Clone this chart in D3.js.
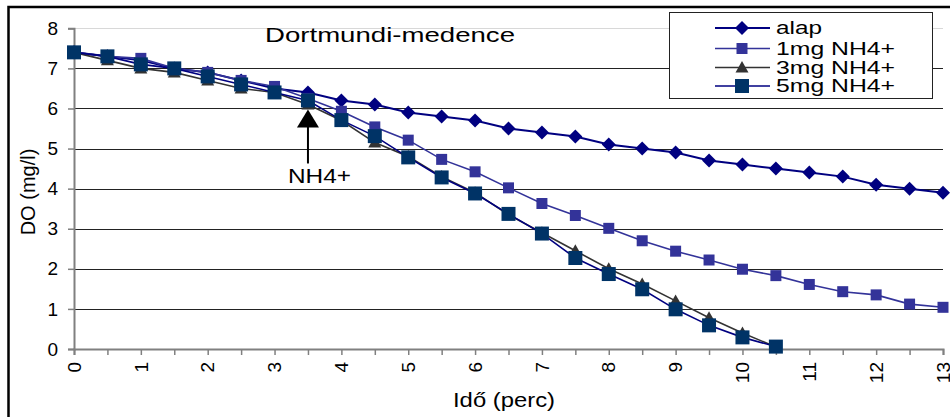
<!DOCTYPE html>
<html>
<head>
<meta charset="utf-8">
<script src="https://cdn.jsdelivr.net/npm/d3@7"></script>
<style>
  body { margin: 0; background: #fff; }
  text { font-family: "Liberation Sans", Arial, sans-serif; fill: #000; }
</style>
</head>
<body>
<svg id="chart"></svg>
<script>
const width = 950, height = 417;

// time points (perc)
const time = [0, 0.5, 1, 1.5, 2, 2.5, 3, 3.5, 4, 4.5, 5, 5.5, 6, 6.5, 7, 7.5, 8, 8.5,
              9, 9.5, 10, 10.5, 11, 11.5, 12, 12.5, 13];

// DO values (mg/l)
const alap = [7.4, 7.3, 7.2, 7.0, 6.9, 6.7, 6.5, 6.4, 6.2, 6.1, 5.9, 5.8, 5.7, 5.5, 5.4, 5.3, 5.1, 5.0,
              4.9, 4.7, 4.6, 4.5, 4.4, 4.3, 4.1, 4.0, 3.9];
const mg1 = [7.4, 7.3, 7.25, 7.0, 6.9, 6.7, 6.55, 6.25, 5.93, 5.54, 5.21, 4.73, 4.42, 4.02, 3.63, 3.33, 3.01, 2.7,
             2.44, 2.22, 1.99, 1.83, 1.61, 1.43, 1.35, 1.12, 1.04];
const mg3 = [7.4, 7.2, 7.0, 6.9, 6.7, 6.5, 6.4, 6.1, 5.7, 5.15, 4.8, 4.3, 3.9, 3.35, 2.9, 2.45, 2.0, 1.62,
             1.2, 0.78, 0.4, 0.05];
const mg5 = [7.4, 7.3, 7.1, 7.0, 6.8, 6.6, 6.4, 6.2, 5.71, 5.31, 4.78, 4.28, 3.88, 3.37, 2.88, 2.27, 1.87, 1.49,
             0.99, 0.59, 0.29, 0.06];

const yTicks = [0, 1, 2, 3, 4, 5, 6, 7, 8];
const xTicks = [0, 1, 2, 3, 4, 5, 6, 7, 8, 9, 10, 11, 12, 13];

const series = [
    { name: "alap", values: alap, line: "#000080", fill: "#000080", shape: "diamond", lw: 2 },
    { name: "1mg NH4+", values: mg1, line: "#333399", fill: "#333399", shape: "smallsquare", lw: 1.6 },
    { name: "3mg NH4+", values: mg3, line: "#333333", fill: "#333333", shape: "triangle", lw: 1.6 },
    { name: "5mg NH4+", values: mg5, line: "#000080", fill: "#003366", shape: "square", lw: 1.6 }
];

const svg = d3.select("#chart").attr("width", width).attr("height", height);

const x = d3.scaleLinear().domain([0, 13]).range([74, 943]);
const y = d3.scaleLinear().domain([0, 8]).range([349, 28.3]);

//outer frame
svg.append("rect")
    .attr("x", 8.5).attr("y", 7).attr("width", 1000).attr("height", 500)
    .attr("fill", "none").attr("stroke", "#000").attr("stroke-width", 2.5);

//gridlines
svg.append("g").selectAll("line")
    .data(yTicks.filter(d => d > 0))
    .join("line")
    .attr("x1", x(0)).attr("x2", x(13))
    .attr("y1", d => Math.round(y(d)) + 0.5).attr("y2", d => Math.round(y(d)) + 0.5)
    .attr("stroke", d => d === 8 ? "#d8d8d8" : "#222")
    .attr("stroke-width", 1.2);

//y axis
const yAxis = svg.append("g")
    .attr("transform", `translate(${x(0)},0)`)
    .call(d3.axisLeft(y).tickValues(yTicks).tickSize(6).tickPadding(10).tickFormat(d3.format("d")));
yAxis.select(".domain").attr("stroke", "#808080").attr("stroke-width", 2);
yAxis.selectAll(".tick line").attr("stroke", "#808080").attr("stroke-width", 1.5);
yAxis.selectAll("text").attr("font-size", 19).attr("font-family", "Liberation Sans, Arial").attr("fill", "#000");

//x axis, ticks every half minute
const xAxis = svg.append("g")
    .attr("transform", `translate(0,${y(0)})`)
    .call(d3.axisBottom(x).tickValues(time).tickSize(6).tickFormat(""));
xAxis.select(".domain").attr("stroke", "#808080").attr("stroke-width", 2);
xAxis.selectAll(".tick line").attr("stroke", "#808080").attr("stroke-width", 1.5);

svg.append("g").selectAll("text")
    .data(xTicks)
    .join("text")
    .attr("transform", d => `translate(${x(d)},362) rotate(-90)`)
    .attr("text-anchor", "end")
    .attr("dy", "0.35em")
    .attr("font-size", 19)
    .text(d => d);

//lines and markers
const line = d3.line()
    .x((d, i) => x(time[i]))
    .y(d => y(d));

function marker(shape) {
    if (shape === "diamond") return "M0,-7L7,0L0,7L-7,0Z";
    if (shape === "smallsquare") return "M-5.5,-5.5H5.5V5.5H-5.5Z";
    if (shape === "square") return "M-7,-7H7V7H-7Z";
    return "M0,-6.5L6.5,5L-6.5,5Z";
}

series.forEach(s => {
    const g = svg.append("g");
    g.append("path")
        .attr("d", line(s.values))
        .attr("fill", "none")
        .attr("stroke", s.line)
        .attr("stroke-width", s.lw);
    g.selectAll("path.pt")
        .data(s.values)
        .join("path")
        .attr("class", "pt")
        .attr("transform", (d, i) => `translate(${x(time[i])},${y(d)})`)
        .attr("d", marker(s.shape))
        .attr("fill", s.fill);
});

//title
svg.append("text")
    .attr("x", 265).attr("y", 41.5)
    .attr("font-size", 21)
    .attr("textLength", 250).attr("lengthAdjust", "spacingAndGlyphs")
    .text("Dortmundi-medence");

//NH4+ arrow annotation
const ax = x(3.5), ay = y(6);
svg.append("line")
    .attr("x1", ax).attr("x2", ax)
    .attr("y1", ay + 18).attr("y2", ay + 55)
    .attr("stroke", "#000").attr("stroke-width", 2);
svg.append("path")
    .attr("d", `M${ax},${ay + 1}L${ax + 11},${ay + 19}L${ax - 11},${ay + 19}Z`)
    .attr("fill", "#000");
svg.append("text")
    .attr("x", 288).attr("y", 183)
    .attr("font-size", 20)
    .attr("textLength", 63).attr("lengthAdjust", "spacingAndGlyphs")
    .text("NH4+");

//axis titles
svg.append("text")
    .attr("x", 453).attr("y", 406.5)
    .attr("font-size", 20)
    .attr("textLength", 102).attr("lengthAdjust", "spacingAndGlyphs")
    .text("Idő (perc)");

svg.append("text")
    .attr("transform", "translate(35,192) rotate(-90)")
    .attr("text-anchor", "middle")
    .attr("font-size", 20)
    .text("DO (mg/l)");

//legend
const legend = svg.append("g");
legend.append("rect")
    .attr("x", 669.5).attr("y", 12.5).attr("width", 263).attr("height", 86)
    .attr("fill", "#fff").attr("stroke", "#222").attr("stroke-width", 1);

const rowY = [28, 48.5, 67.5, 86];
const textLen = [46, 119, 119, 119];
series.forEach((s, i) => {
    const ly = rowY[i];
    legend.append("line")
        .attr("x1", 715).attr("x2", 770)
        .attr("y1", ly).attr("y2", ly)
        .attr("stroke", s.line).attr("stroke-width", s.lw);
    legend.append("path")
        .attr("transform", `translate(742,${ly})`)
        .attr("d", marker(s.shape))
        .attr("fill", s.fill);
    legend.append("text")
        .attr("x", 776).attr("y", ly + 6.3)
        .attr("font-size", 17.5)
        .attr("textLength", textLen[i]).attr("lengthAdjust", "spacingAndGlyphs")
        .text(s.name);
});
</script>
</body>
</html>
